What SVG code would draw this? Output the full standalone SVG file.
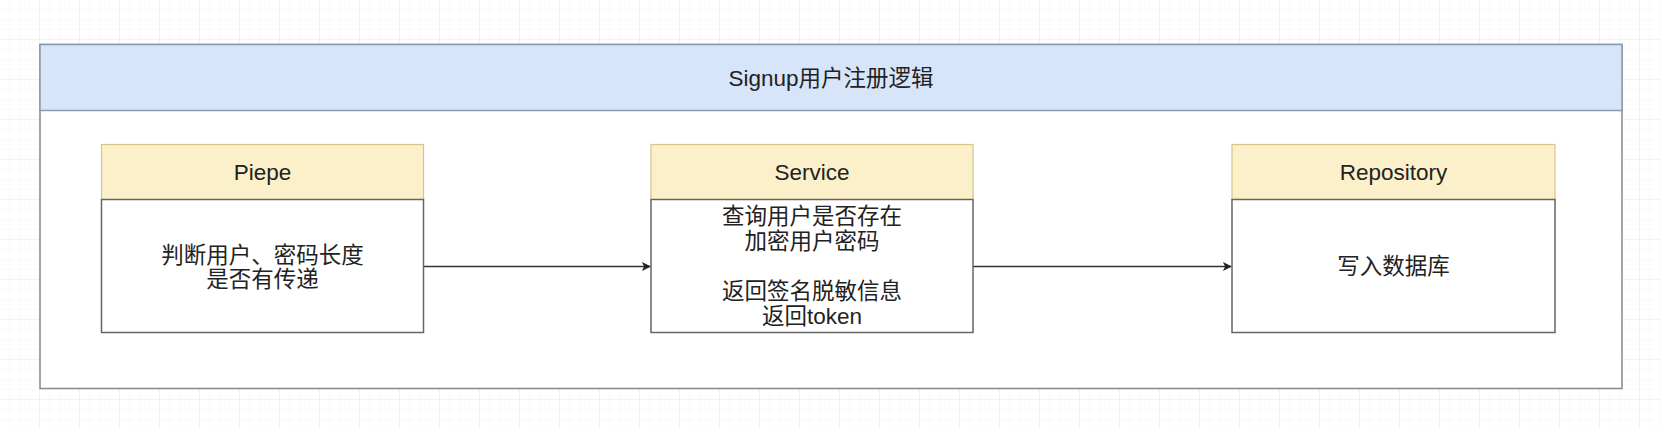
<svg xmlns="http://www.w3.org/2000/svg" width="1660" height="428" viewBox="0 0 1660 428">
<style>
.t{font-family:"Liberation Sans","Noto Sans CJK SC",sans-serif;font-size:22.5px;fill:#222;text-anchor:middle;dominant-baseline:central}
.hdr{fill:#fbf0c9;stroke:#d9c48a;stroke-width:1.2}
.body{fill:#fff;stroke:#666;stroke-width:1.5}
.edge{stroke:#333;stroke-width:1.3;fill:none}
</style>
<defs>
<pattern id="gmin" width="10" height="10" patternUnits="userSpaceOnUse" x="0" y="0">
<path d="M10 0V10M0 10H10" stroke="#f4f4f4" stroke-width="1" fill="none"/>
</pattern>
<pattern id="gmaj" width="40" height="40" patternUnits="userSpaceOnUse" x="0" y="0">
<rect width="40" height="40" fill="url(#gmin)"/>
<path d="M40 0V40M0 40H40" stroke="#ebebeb" stroke-width="1" fill="none"/>
</pattern>
<marker id="arr" viewBox="0 0 10 10" refX="9" refY="5" markerWidth="9" markerHeight="9" markerUnits="userSpaceOnUse" orient="auto">
<path d="M0 0L10 5L0 10L2.5 5Z" fill="#222"/>
</marker>
</defs>
<rect width="1660" height="428" fill="#fff"/>
<rect width="1660" height="428" fill="url(#gmaj)"/>
<g id="container">
<rect x="40" y="44.5" width="1582" height="344" fill="#fff" stroke="#888" stroke-width="1.5"/>
<rect x="40" y="44.5" width="1582" height="66" fill="#d6e5fa" stroke="#8a9bb0" stroke-width="1.5"/>
<text class="t" x="831" y="78">Signup用户注册逻辑</text>
</g>
<g id="connectors">
<line class="edge" x1="423.5" y1="266.5" x2="650" y2="266.5" marker-end="url(#arr)"/>
<line class="edge" x1="973" y1="266.5" x2="1231" y2="266.5" marker-end="url(#arr)"/>
</g>
<g id="piepe">
<rect class="hdr" x="101.5" y="144.5" width="322" height="55"/>
<rect class="body" x="101.5" y="199.5" width="322" height="133"/>
<text class="t" x="262.5" y="172.5">Piepe</text>
<text class="t" x="262.5" y="255">判断用户、密码长度</text>
<text class="t" x="262.5" y="279.5">是否有传递</text>
</g>
<g id="service">
<rect class="hdr" x="651" y="144.5" width="322" height="55"/>
<rect class="body" x="651" y="199.5" width="322" height="133"/>
<text class="t" x="812" y="216.5">查询用户是否存在</text>
<text class="t" x="812" y="172.5">Service</text>
<text class="t" x="812" y="241.5">加密用户密码</text>
<text class="t" x="812" y="291.5">返回签名脱敏信息</text>
<text class="t" x="812" y="316.5">返回token</text>
</g>
<g id="repository">
<rect class="hdr" x="1232" y="144.5" width="323" height="55"/>
<rect class="body" x="1232" y="199.5" width="323" height="133"/>
<text class="t" x="1393.5" y="172.5">Repository</text>
<text class="t" x="1393.5" y="266.5">写入数据库</text>
</g>
</svg>
